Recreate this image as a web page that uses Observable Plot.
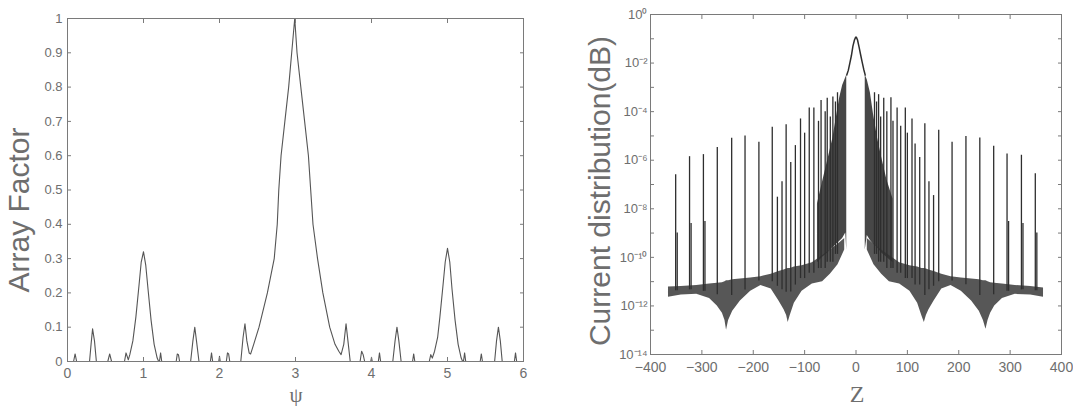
<!DOCTYPE html>
<html><head><meta charset="utf-8">
<script src="https://cdn.jsdelivr.net/npm/d3@7"></script>
<script src="https://cdn.jsdelivr.net/npm/@observablehq/plot@0.6"></script>
<style>
html,body{margin:0;padding:0;background:#fff}
body{width:1073px;height:406px;position:relative;overflow:hidden;font-family:"Liberation Sans",Arial,sans-serif}
.panel{position:absolute;top:0}
.lbl{position:absolute;color:#6e6e6e;white-space:nowrap;transform:translate(-50%,-50%);line-height:1}
.rot{transform:translate(-50%,-50%) rotate(-90deg)}
</style></head><body>
<div id="left" class="panel" style="left:0"></div>
<div id="right" class="panel" style="left:540px"></div>
<div class="lbl rot" style="left:19px;top:210px;font-size:30px">Array Factor</div>
<div class="lbl rot" style="left:600px;top:191px;font-size:30px">Current distribution(dB)</div>
<div class="lbl" style="left:296px;top:395px;font-size:21px;font-family:'Liberation Serif',serif">ψ</div>
<div class="lbl" style="left:857px;top:394px;font-size:24px;font-family:'Liberation Serif',serif">Z</div>
<script>
// ---------- Left panel: Array Factor vs psi ----------
const psi = [0.00,0.08,0.10,0.12,0.29,0.31,0.33,0.355,0.38,0.53,0.555,0.58,0.75,0.77,0.80,0.82,0.86,0.90,0.94,0.97,1.00,1.03,1.06,1.10,1.14,1.18,1.20,
  1.21,1.225,1.24,1.43,1.445,1.46,1.475,1.62,1.65,1.675,1.70,1.73,1.88,1.895,1.91,1.99,2.00,2.01,2.09,2.105,2.12,2.135,
  2.28,2.31,2.335,2.36,2.39,2.41,2.45,2.52,2.63,2.72,2.76,2.78,2.81,2.86,2.91,2.95,2.99,3.02,3.07,3.12,3.17,3.20,3.23,3.29,3.36,3.45,3.52,3.57,3.60,3.635,3.665,3.69,3.72,
  3.85,3.87,3.89,3.91,3.99,4.00,4.01,4.09,4.105,4.12,4.28,4.31,4.335,4.36,4.39,4.54,4.555,4.57,
  4.76,4.78,4.80,4.83,4.87,4.90,4.94,4.97,5.00,5.03,5.06,5.10,5.14,5.18,5.20,5.21,5.225,5.24,5.43,5.445,5.46,
  5.62,5.645,5.67,5.695,5.72,5.88,5.895,5.91,6.00];
const arrayFactor = [0,0,0.022,0,0,0.05,0.095,0.06,0,0,0.022,0,0,0.025,0.005,0.02,0.06,0.13,0.22,0.29,0.32,0.28,0.21,0.12,0.05,0.01,0,
  0,0.025,0,0,0.022,0.02,0,0,0.06,0.10,0.055,0,0,0.025,0,0,0.015,0,0,0.025,0.022,0,
  0,0.07,0.11,0.06,0.025,0.022,0.05,0.10,0.20,0.30,0.40,0.50,0.60,0.70,0.80,0.90,1.00,0.90,0.80,0.70,0.60,0.50,0.40,0.30,0.20,0.10,0.05,0.03,0.02,0.05,0.11,0.06,0,
  0,0.03,0.02,0,0,0.012,0,0,0.025,0,0,0.06,0.10,0.06,0,0,0.022,0,
  0,0.02,0.01,0.03,0.07,0.13,0.22,0.29,0.33,0.29,0.21,0.12,0.05,0.01,0,0,0.025,0,0,0.022,0,
  0,0.06,0.10,0.06,0,0,0.025,0,0];
const psiTicks = [0,1,2,3,4,5,6];
const afTicks = [0,0.1,0.2,0.3,0.4,0.5,0.6,0.7,0.8,0.9,1];

// ---------- Right panel: Current distribution vs Z ----------
const floorZ  = [-365,-340,-310,-285,-270,-260,-255,-252,-248,-240,-225,-205,-185,-165,-150,-140,-135,-132,-128,-120,-105,-85,-65,-50,-35,-22,
                  22,35,50,65,85,105,120,128,133,137,142,152,167,185,205,225,240,248,253,257,262,270,285,310,340,365];
const floorHi = [6e-12,6.3e-12,7e-12,8e-12,8.5e-12,9e-12,1e-11,1.1e-11,1.1e-11,1.2e-11,1.3e-11,1.4e-11,1.6e-11,2e-11,2.6e-11,3e-11,3.3e-11,3.5e-11,3.5e-11,4e-11,4.5e-11,6e-11,1.2e-10,2e-10,3.5e-10,6e-10,
                 6e-10,3.5e-10,2e-10,1.2e-10,6e-11,4.5e-11,4e-11,3.5e-11,3.5e-11,3.3e-11,3e-11,2.6e-11,2e-11,1.6e-11,1.4e-11,1.3e-11,1.2e-11,1.1e-11,1.1e-11,1e-11,9e-12,8.5e-12,8e-12,7e-12,6.3e-12,5.5e-12];
const floorLo = [2.3e-12,2.8e-12,3e-12,2e-12,1e-12,5e-13,2.5e-13,1e-13,2.5e-13,6e-13,1.6e-12,4e-12,7e-12,5e-12,1.6e-12,7e-13,4e-13,2.1e-13,4e-13,1.3e-12,4e-12,8e-12,1e-11,2e-11,5e-11,2e-10,
                 2e-10,5e-11,2e-11,1e-11,8e-12,4e-12,1.3e-12,4e-13,2.1e-13,4e-13,7e-13,1.6e-12,5e-12,7e-12,4e-12,1.6e-12,6e-13,2.5e-13,1.1e-13,2.5e-13,5e-13,1e-12,2e-12,3e-12,2.8e-12,2.3e-12];

const bandZ  = [-75,-65,-55,-45,-38,-32,-26,-20,-18, 18,22,28,34,42,50,60,72];
const bandHi = [1.6e-8,1.3e-7,1e-6,8e-6,6e-5,3.5e-4,1.2e-3,2.5e-3,3.2e-3, 3.2e-3,2e-3,6e-4,8e-5,8e-6,1.3e-6,1.6e-7,2.5e-8];
const bandLo = [6e-11,1e-10,1.5e-10,2.5e-10,3.5e-10,4.5e-10,6e-10,1e-9,2e-10, 2e-10,8e-10,5e-10,3.5e-10,2.5e-10,1.5e-10,1e-10,6e-11];

const lobeZ   = [-18,-15,-12,-9,-6,-3,-1,0,1,3,6,9,12,15,18];
const lobeVal = [3.2e-3,5e-3,1e-2,2e-2,5e-2,8.9e-2,0.112,0.117,0.112,8.9e-2,4.5e-2,2.2e-2,1.1e-2,5.6e-3,3.2e-3];

const spikeZ   = [-351,-348,-324,-321,-297,-294,-270,-242,-216,-189,-163,-153,-144,-136,-127,-118,-108,-100,-91,-82,-73,-68,-60,-56,-50,-45,-40,-36,
                  36,40,44,48,54,60,68,72,80,87,96,100,109,115,124,134,142,151,161,187,214,241,268,294,297,322,325,349,352];
const spikeTop = [2.5e-7,1e-9,1.4e-6,2.5e-9,1.7e-6,3e-9,3.3e-6,8e-6,1e-5,5.5e-6,2.3e-5,3e-8,1.3e-7,2.9e-5,8e-7,4e-6,5e-5,1.3e-5,1.4e-4,1.4e-4,4e-5,2.9e-4,1e-4,3.6e-4,6e-5,4e-4,2.5e-4,6e-4,
                  6e-4,2.5e-4,5e-4,6e-5,3.6e-4,1e-4,3.7e-4,4e-5,1.4e-4,2.5e-5,1.4e-4,1.3e-5,5e-5,4.7e-6,1.3e-6,3.2e-5,1.3e-7,3.5e-8,1.7e-5,5.5e-6,9.5e-6,8.3e-6,3.8e-6,1.8e-6,3e-9,1.6e-6,2.5e-9,2.8e-7,1e-9];

const zTicks = [-400,-300,-200,-100,0,100,200,300,400];
const decadeTicks = [1e0,1e-1,1e-2,1e-3,1e-4,1e-5,1e-6,1e-7,1e-8,1e-9,1e-10,1e-11,1e-12,1e-13,1e-14];
const decadeLabels = [1e0,1e-2,1e-4,1e-6,1e-8,1e-10,1e-12,1e-14];

// ---------- build ----------
const GRAY = "#6e6e6e", FRAME = "#7a7a7a";
const fontFamily = "'Liberation Sans', Arial, sans-serif";
const blank = () => "";

function inwardTicks(xTicks, yTicks) {
  return [
    Plot.axisX({anchor: "bottom", ticks: xTicks, tickSize: 4, dy: -4, tickFormat: blank, label: null, stroke: FRAME}),
    Plot.axisX({anchor: "top", ticks: xTicks, tickSize: 4, dy: 4, tickFormat: blank, label: null, stroke: FRAME}),
    Plot.axisY({anchor: "left", ticks: yTicks, tickSize: 4, dx: 4, tickFormat: blank, label: null, stroke: FRAME}),
    Plot.axisY({anchor: "right", ticks: yTicks, tickSize: 4, dx: -4, tickFormat: blank, label: null, stroke: FRAME})
  ];
}

const afData = psi.map((p, i) => ({psi: p, af: arrayFactor[i]}));
const leftPlot = Plot.plot({
  width: 540, height: 406,
  marginLeft: 67, marginRight: 17, marginTop: 18, marginBottom: 45,
  style: {fontFamily, background: "white", color: GRAY, overflow: "visible"},
  x: {domain: [0, 6], label: null},
  y: {domain: [0, 1], label: null},
  marks: [
    Plot.line(afData, {x: "psi", y: "af", stroke: "#555", strokeWidth: 1.1}),
    Plot.frame({stroke: FRAME}),
    ...inwardTicks(psiTicks, afTicks),
    Plot.axisX({anchor: "bottom", ticks: psiTicks, tickSize: 0, tickPadding: 7, fontSize: 14, fill: GRAY, tickFormat: d3.format("~g"), label: null}),
    Plot.axisY({anchor: "left", ticks: afTicks, tickSize: 0, tickPadding: 5, fontSize: 13, fill: GRAY, tickFormat: d3.format("~g"), label: null})
  ]
});
document.getElementById("left").append(leftPlot);

const sideOf = z => z < 0 ? "L" : "R";
const floorData = floorZ.map((z, i) => ({pos: z, hi: floorHi[i], lo: floorLo[i], side: sideOf(z)}));
const bandData = bandZ.map((z, i) => ({pos: z, hi: bandHi[i], lo: bandLo[i], side: sideOf(z)}));
const lobeData = lobeZ.map((z, i) => ({pos: z, val: lobeVal[i]}));
const nearestFloor = z => floorData.reduce((b, p) => Math.abs(p.pos - z) < Math.abs(b.pos - z) ? p : b, floorData[0]);
const spikeData = spikeZ.map((z, i) => {
  const f = nearestFloor(z);
  return {pos: z, top: spikeTop[i], base: Math.sqrt(f.hi * f.lo)};
});
const SUP = {"0":"⁰","1":"¹","2":"²","3":"³","4":"⁴","5":"⁵","6":"⁶","7":"⁷","8":"⁸","9":"⁹","-":"⁻"};
const supFormat = d => "10" + String(Math.round(Math.log10(d))).split("").map(c => SUP[c]).join("");

const rightPlot = Plot.plot({
  width: 533, height: 406,
  marginLeft: 110, marginRight: 12, marginTop: 14, marginBottom: 52,
  style: {fontFamily, background: "white", color: GRAY, overflow: "visible"},
  x: {domain: [-400, 400], label: null},
  y: {type: "log", domain: [1e-14, 1], label: null},
  marks: [
    Plot.areaY(floorData, {x: "pos", y1: "lo", y2: "hi", z: "side", fill: "#3a3a3a", fillOpacity: 0.85}),
    Plot.areaY(bandData, {x: "pos", y1: "lo", y2: "hi", z: "side", fill: "#333", fillOpacity: 0.9}),
    Plot.ruleX(spikeData, {x: "pos", y1: "base", y2: "top", stroke: "#2e2e2e", strokeWidth: 1.3}),
    Plot.line(lobeData, {x: "pos", y: "val", stroke: "#2e2e2e", strokeWidth: 1.5}),
    Plot.frame({stroke: FRAME}),
    ...inwardTicks(zTicks, decadeTicks),
    Plot.axisX({anchor: "bottom", ticks: zTicks, tickSize: 0, tickPadding: 8, fontSize: 14, fill: GRAY, tickFormat: d3.format("~g"), label: null}),
    Plot.axisY({anchor: "left", ticks: decadeLabels, tickSize: 0, tickPadding: 3, fontSize: 13, fill: GRAY, tickFormat: supFormat, label: null})
  ]
});
document.getElementById("right").append(rightPlot);
</script>
</body></html>
